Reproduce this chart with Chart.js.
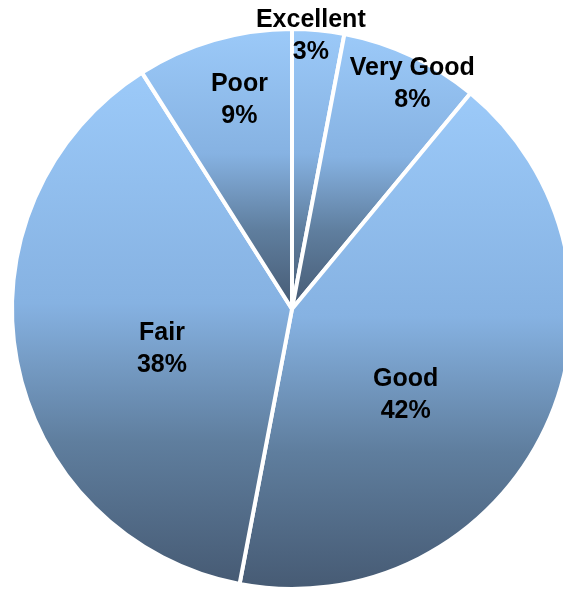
<!DOCTYPE html>
<html>
<head>
<meta charset="utf-8">
<script src="https://cdn.jsdelivr.net/npm/chart.js@4.4.1/dist/chart.umd.min.js"></script>
<style>
  html, body { margin: 0; padding: 0; background: #fff; }
  #wrap { width: 563px; height: 590px; overflow: hidden; position: relative; }
  #wrap canvas { position: absolute; left: 0; top: 0; }
</style>
</head>
<body>
<div id="wrap"><canvas id="pie" width="600" height="600"></canvas></div>
<script>
// Rating shares, clockwise from 12 o'clock
const ratings = ['Excellent', 'Very Good', 'Good', 'Fair', 'Poor'];
const shares = [3, 8, 42, 38, 9];

// label placement: fraction of radius along slice mid-angle, plus a pixel nudge
const labelRadius = [0.98, 0.9, 0.5, 0.48, 0.75];
const labelNudge = [[-7, 0], [13, 3], [-13, 27], [2, 15], [6, -7]];

// light sky blue on top fading to slate at the bottom
const gradientStops = [[0, '#9ccaf9'], [0.45, '#86b2e2'], [0.72, '#5f7e9e'], [1, '#465a73']];

// vertical gradient spanning each slice's own bounding box
function sliceGradient(ctx) {
  const chart = ctx.chart;
  const area = chart.chartArea;
  if (!area) return gradientStops[0][1];
  const i = ctx.dataIndex;
  const total = shares.reduce((a, b) => a + b, 0);
  let before = 0;
  for (let k = 0; k < i; k++) before += shares[k];
  const a0 = -Math.PI / 2 + before / total * Math.PI * 2;
  const a1 = a0 + shares[i] / total * Math.PI * 2;
  const cx = (area.left + area.right) / 2;
  const cy = (area.top + area.bottom) / 2;
  const r = Math.min(area.right - area.left, area.bottom - area.top) / 2;
  const ys = [cy, cy + r * Math.sin(a0), cy + r * Math.sin(a1)];
  // include top / bottom extremes of the arc if they fall inside the slice
  for (const t of [-Math.PI / 2, Math.PI / 2, 3 * Math.PI / 2]) {
    if (t > a0 && t < a1) ys.push(cy + r * Math.sin(t));
  }
  const y0 = Math.min(...ys), y1 = Math.max(...ys);
  const g = chart.ctx.createLinearGradient(0, y0, 0, y1);
  gradientStops.forEach(([p, col]) => g.addColorStop(p, col));
  return g;
}

const sliceLabels = {
  id: 'sliceLabels',
  afterDatasetsDraw(chart) {
    const c = chart.ctx;
    const meta = chart.getDatasetMeta(0);
    c.save();
    c.font = 'bold 25px "Liberation Sans", Arial, sans-serif';
    c.fillStyle = '#000';
    c.textAlign = 'center';
    c.textBaseline = 'middle';
    meta.data.forEach((arc, i) => {
      const mid = (arc.startAngle + arc.endAngle) / 2;
      const d = arc.outerRadius * labelRadius[i];
      const x = arc.x + Math.cos(mid) * d + labelNudge[i][0];
      const y = arc.y + Math.sin(mid) * d + labelNudge[i][1];
      c.fillText(ratings[i], x, y - 16);
      c.fillText(shares[i] + '%', x, y + 16);
    });
    c.restore();
  }
};

new Chart(document.getElementById('pie'), {
  type: 'pie',
  data: {
    labels: ratings,
    datasets: [{
      data: shares,
      backgroundColor: sliceGradient,
      borderColor: '#ffffff',
      borderWidth: 4
    }]
  },
  options: {
    responsive: false,
    animation: false,
    layout: { padding: { left: 10, right: 26, top: 27, bottom: 9 } },
    plugins: {
      legend: { display: false },
      tooltip: { enabled: false }
    }
  },
  plugins: [sliceLabels]
});
</script>
</body>
</html>
